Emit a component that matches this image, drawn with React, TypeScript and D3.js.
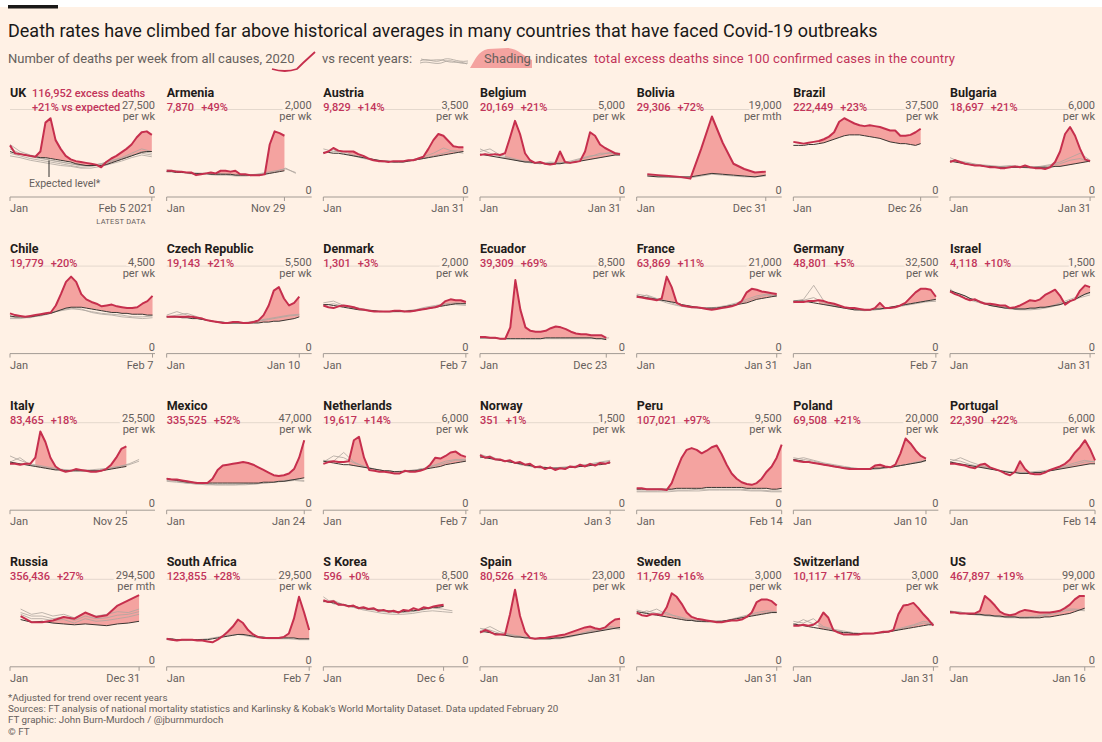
import React from "react";
import * as d3 from "d3";

// Weekly (or monthly) deaths, as % of each panel's axis maximum.
// red = 2020, exp = expected level, grey = recent years
const ukRed = [59, 50, 49, 48, 47, 46, 52, 85, 90, 65, 55, 47, 43, 41, 40, 39, 38, 37, 34, 40, 44, 47, 51, 55, 60, 68, 74, 75, 71];
const ukExp = [52, 50, 49, 48, 47, 46, 45, 45, 44, 43, 42, 41, 40, 38, 37, 36, 36, 36, 36, 37, 39, 41, 43, 45, 47, 49, 51, 52, 52];
const ukGrey = [
  [55, 50, 46, 44, 42, 40, 38, 36, 36, 38, 41, 45, 50, 55, 52],
  [50, 47, 44, 42, 40, 38, 36, 34, 35, 37, 40, 43, 47, 52, 50],
  [60, 52, 48, 45, 42, 40, 38, 36, 36, 38, 42, 44, 48, 50, 48],
  [47, 45, 42, 40, 38, 36, 35, 33, 33, 35, 38, 41, 45, 48, 46],
];
const armeniaRed = [30, 30, 29, 29, 28, 28, 25, 26, 27, 28, 27, 30, 30, 29, 30, 26, 26, 25, 25, 25, 26, 60, 75, 73, 70];
const armeniaExp = [29, 29, 28, 28, 28, 27, 27, 27, 27, 26, 26, 26, 26, 26, 25, 25, 25, 25, 25, 25, 26, 27, 28, 29, 30];
const armeniaGrey = [
  [31, 30, 28, 27, 26, 27, 26, 25, 25, 26, 28, 30, 32, 28],
  [29, 29, 27, 26, 26, 25, 25, 24, 24, 25, 27, 29, 33, 27],
];
const austriaRed = [50, 52, 56, 53, 52, 52, 52, 49, 47, 44, 42, 41, 41, 40, 41, 41, 41, 42, 42, 44, 46, 55, 65, 72, 70, 64, 58, 57, 57];
const austriaExp = [51, 51, 50, 50, 49, 48, 47, 46, 45, 44, 43, 42, 41, 41, 40, 40, 40, 41, 42, 43, 44, 45, 46, 47, 48, 49, 50, 51, 52];
const austriaGrey = [
  [55, 52, 52, 48, 45, 43, 41, 40, 41, 43, 46, 50, 56, 52, 50],
  [50, 54, 50, 47, 44, 42, 40, 40, 40, 42, 44, 47, 50, 53, 52],
];
const belgiumRed = [48, 49, 48, 49, 48, 50, 68, 87, 72, 50, 42, 39, 40, 38, 37, 38, 52, 40, 39, 40, 41, 52, 74, 70, 60, 56, 53, 50, 49];
const belgiumExp = [49, 48, 47, 46, 45, 44, 43, 42, 41, 40, 40, 39, 39, 38, 38, 38, 38, 39, 39, 40, 41, 42, 43, 44, 45, 46, 47, 48, 48];
const belgiumGrey = [
  [52, 55, 48, 45, 42, 40, 38, 40, 39, 40, 43, 46, 50, 50, 49],
  [55, 50, 46, 44, 41, 39, 38, 39, 39, 41, 44, 47, 48, 51, 50],
];
const boliviaRed = [26, 25, 24, 23, 21, 55, 92, 62, 38, 32, 28, 29];
const boliviaExp = [24, 23, 23, 23, 23, 25, 27, 26, 25, 24, 23, 25];
const boliviaGrey = [[25, 24, 23, 22, 22, 24, 26, 25, 24, 23, 23, 24]];
const brazilRed = [63, 62, 61, 62, 63, 64, 66, 69, 74, 86, 90, 87, 84, 82, 81, 82, 81, 80, 78, 76, 76, 70, 70, 71, 74, 78];
const brazilExp = [59, 59, 59, 60, 60, 61, 62, 64, 66, 68, 70, 71, 71, 71, 70, 69, 68, 67, 65, 63, 62, 61, 61, 60, 59, 61];
const brazilGrey: number[][] = [];
const bulgariaRed = [40, 42, 40, 38, 37, 36, 36, 35, 34, 34, 33, 33, 34, 35, 34, 36, 34, 33, 33, 32, 34, 40, 52, 72, 80, 70, 55, 43, 41];
const bulgariaExp = [41, 40, 39, 38, 37, 36, 36, 35, 35, 34, 34, 34, 34, 34, 34, 34, 34, 34, 34, 34, 34, 35, 35, 36, 37, 38, 39, 40, 41];
const bulgariaGrey = [
  [45, 40, 38, 37, 36, 35, 36, 35, 34, 35, 37, 40, 45, 50, 42],
  [42, 41, 39, 36, 35, 34, 34, 34, 33, 34, 36, 38, 42, 44, 40],
];
const chileRed = [46, 44, 43, 42, 43, 44, 45, 46, 47, 55, 68, 82, 88, 82, 68, 62, 59, 57, 54, 55, 56, 54, 53, 52, 52, 53, 57, 60, 66];
const chileExp = [43, 42, 42, 42, 42, 43, 44, 45, 46, 48, 50, 52, 53, 53, 53, 52, 51, 50, 49, 48, 47, 47, 46, 46, 45, 45, 45, 44, 44];
const chileGrey = [
  [40, 40, 42, 43, 46, 50, 52, 50, 48, 46, 45, 44, 42, 42, 43],
  [42, 41, 41, 44, 47, 49, 51, 51, 47, 45, 44, 42, 41, 40, 41],
];
const czechRed = [42, 42, 42, 42, 42, 42, 41, 40, 38, 37, 36, 35, 35, 36, 36, 35, 35, 36, 38, 44, 55, 72, 76, 63, 55, 58, 65];
const czechExp = [42, 42, 42, 41, 41, 40, 40, 39, 38, 37, 36, 36, 35, 35, 35, 35, 35, 35, 35, 36, 36, 37, 37, 38, 39, 40, 42];
const czechGrey = [
  [44, 48, 44, 40, 38, 36, 35, 35, 36, 38, 40, 42, 44, 45],
  [42, 44, 46, 42, 38, 36, 35, 35, 35, 37, 39, 41, 43, 44],
];
const denmarkRed = [55, 53, 52, 54, 55, 54, 53, 51, 50, 49, 48, 48, 48, 48, 49, 49, 48, 48, 49, 50, 51, 52, 53, 55, 60, 62, 61, 61, 59];
const denmarkExp = [56, 56, 55, 54, 53, 52, 51, 50, 50, 49, 49, 48, 48, 48, 48, 48, 48, 49, 49, 50, 51, 52, 53, 54, 55, 56, 57, 57, 57];
const denmarkGrey = [
  [58, 60, 55, 52, 50, 49, 48, 48, 49, 50, 53, 55, 57, 58, 57],
  [55, 57, 54, 53, 51, 49, 48, 48, 48, 50, 52, 54, 56, 56, 55],
];
const ecuadorRed = [19, 19, 18, 18, 17, 17, 30, 84, 50, 30, 26, 25, 25, 26, 29, 31, 30, 28, 25, 23, 22, 22, 21, 21, 21, 18];
const ecuadorExp = [18, 18, 18, 18, 17, 17, 17, 17, 17, 17, 17, 17, 17, 18, 18, 18, 18, 18, 18, 18, 18, 18, 18, 17, 17, 16];
const ecuadorGrey = [[18, 18, 17, 17, 17, 17, 17, 17, 17, 17, 17, 17, 17, 18]];
const franceRed = [65, 64, 63, 62, 61, 63, 88, 76, 58, 55, 54, 53, 53, 52, 51, 50, 51, 52, 53, 54, 56, 60, 70, 74, 73, 71, 70, 69, 68];
const franceExp = [66, 65, 64, 63, 62, 61, 60, 59, 58, 56, 55, 54, 53, 52, 52, 52, 52, 53, 54, 55, 56, 57, 58, 60, 62, 63, 64, 65, 66];
const franceGrey = [
  [68, 66, 62, 58, 55, 53, 52, 52, 53, 55, 58, 62, 66, 68, 66],
  [64, 67, 63, 60, 56, 54, 52, 51, 52, 54, 57, 60, 64, 67, 65],
];
const germanyRed = [59, 59, 59, 60, 60, 61, 60, 58, 57, 55, 53, 52, 52, 51, 50, 50, 52, 58, 52, 52, 53, 55, 58, 64, 70, 74, 74, 73, 65];
const germanyExp = [60, 60, 60, 59, 58, 57, 56, 55, 54, 53, 52, 51, 50, 50, 50, 50, 51, 51, 52, 53, 54, 55, 56, 57, 58, 59, 60, 61, 62];
const germanyGrey = [
  [60, 62, 78, 60, 55, 53, 51, 50, 50, 52, 54, 56, 58, 60, 60],
  [58, 61, 64, 58, 54, 52, 50, 49, 50, 51, 53, 55, 57, 59, 60],
];
const israelRed = [71, 68, 66, 63, 61, 62, 59, 57, 57, 56, 55, 55, 52, 53, 55, 58, 61, 60, 62, 67, 70, 73, 66, 56, 60, 62, 72, 78, 76];
const israelExp = [72, 70, 68, 66, 63, 61, 59, 57, 55, 54, 53, 52, 52, 51, 51, 51, 52, 52, 53, 53, 54, 55, 56, 58, 60, 62, 65, 68, 70];
const israelGrey = [
  [70, 68, 63, 60, 56, 54, 52, 51, 51, 52, 54, 58, 62, 66, 69],
  [74, 65, 61, 58, 55, 53, 51, 50, 50, 51, 53, 56, 60, 64, 67],
];
const italyRed = [53, 53, 52, 53, 53, 60, 90, 78, 60, 50, 46, 44, 45, 47, 46, 45, 44, 44, 45, 47, 52, 60, 70, 73];
const italyExp = [55, 54, 53, 52, 51, 50, 49, 48, 47, 46, 46, 45, 45, 45, 45, 45, 45, 45, 45, 46, 47, 48, 49, 50];
const italyGrey = [
  [62, 57, 53, 51, 49, 47, 46, 46, 46, 47, 48, 50, 52, 56],
  [55, 60, 52, 50, 48, 46, 45, 45, 45, 46, 48, 50, 53, 58],
];
const mexicoRed = [36, 35, 35, 34, 33, 32, 31, 31, 31, 36, 46, 51, 52, 53, 54, 55, 54, 52, 49, 46, 43, 40, 39, 40, 42, 47, 60, 80];
const mexicoExp = [36, 35, 34, 33, 32, 32, 31, 31, 31, 31, 31, 31, 31, 31, 31, 31, 31, 31, 31, 32, 32, 32, 33, 33, 34, 35, 36, 37];
const mexicoGrey = [
  [34, 33, 31, 30, 30, 29, 29, 29, 30, 30, 31, 32, 34, 35, 34],
  [33, 32, 31, 30, 29, 29, 29, 29, 29, 30, 31, 32, 33, 34, 33],
];
const netherlandsRed = [53, 55, 56, 55, 55, 56, 80, 84, 60, 46, 45, 44, 44, 43, 42, 42, 45, 44, 44, 45, 47, 52, 60, 59, 62, 66, 67, 63, 61];
const netherlandsExp = [56, 55, 54, 53, 52, 52, 51, 50, 49, 48, 47, 46, 45, 45, 44, 44, 44, 45, 45, 46, 47, 48, 49, 50, 52, 53, 54, 55, 56];
const netherlandsGrey = [
  [55, 62, 60, 54, 50, 47, 45, 44, 44, 46, 48, 52, 56, 58, 58],
  [57, 56, 66, 55, 50, 47, 45, 44, 45, 46, 48, 51, 54, 57, 57],
];
const norwayRed = [63, 60, 61, 58, 58, 56, 57, 54, 55, 52, 53, 49, 50, 47, 49, 46, 48, 47, 50, 49, 52, 50, 53, 51, 54, 53, 55];
const norwayExp = [61, 60, 59, 58, 57, 56, 55, 54, 53, 52, 51, 50, 49, 49, 48, 48, 48, 48, 49, 49, 50, 50, 51, 52, 52, 53, 54];
const norwayGrey = [
  [64, 60, 58, 55, 53, 51, 49, 48, 49, 50, 51, 52, 54, 56],
  [60, 62, 57, 56, 52, 50, 48, 48, 48, 49, 51, 53, 55, 57],
];
const peruRed = [25, 25, 24, 24, 24, 24, 23, 31, 46, 60, 69, 71, 69, 65, 68, 72, 74, 64, 52, 42, 36, 32, 30, 29, 31, 36, 44, 50, 60, 75];
const peruExp = [24, 24, 24, 24, 24, 24, 24, 24, 25, 25, 25, 25, 25, 25, 26, 26, 26, 26, 26, 26, 26, 26, 25, 25, 25, 25, 25, 24, 24, 25];
const peruGrey = [
  [22, 22, 22, 23, 23, 23, 24, 24, 24, 24, 24, 23, 23, 22, 22],
  [21, 21, 21, 21, 22, 22, 22, 23, 23, 23, 23, 22, 22, 21, 21],
];
const polandRed = [57, 56, 55, 55, 54, 53, 52, 51, 50, 49, 48, 47, 47, 47, 47, 47, 51, 52, 50, 49, 52, 65, 82, 76, 68, 62, 59];
const polandExp = [58, 57, 56, 55, 54, 53, 52, 51, 50, 49, 48, 48, 47, 47, 47, 47, 48, 48, 49, 49, 50, 51, 52, 53, 54, 55, 57];
const polandGrey = [
  [60, 58, 56, 53, 51, 49, 48, 47, 47, 48, 50, 52, 55, 57],
  [58, 60, 57, 54, 52, 50, 48, 47, 47, 48, 50, 52, 54, 56],
];
const portugalRed = [53, 53, 52, 51, 49, 48, 52, 53, 49, 47, 45, 42, 40, 44, 56, 47, 42, 41, 41, 43, 46, 48, 50, 53, 58, 66, 72, 80, 70, 57];
const portugalExp = [55, 54, 53, 52, 51, 50, 49, 48, 47, 46, 45, 44, 43, 43, 42, 42, 42, 43, 43, 44, 45, 46, 47, 48, 49, 50, 51, 52, 53, 53];
const portugalGrey = [
  [58, 56, 52, 50, 47, 45, 43, 43, 44, 45, 47, 50, 54, 57, 55],
  [55, 60, 55, 51, 48, 45, 44, 43, 43, 44, 46, 49, 52, 55, 56],
];
const russiaRed = [58, 51, 51, 53, 57, 55, 62, 57, 59, 70, 76, 82];
const russiaExp = [54, 51, 52, 50, 49, 48, 49, 48, 47, 49, 50, 52];
const russiaGrey = [
  [66, 60, 62, 58, 60, 56, 62, 58, 60, 63, 62, 66],
  [62, 58, 58, 55, 57, 53, 58, 55, 56, 59, 60, 63],
  [60, 55, 55, 53, 54, 50, 55, 52, 53, 55, 57, 60],
];
const southAfricaRed = [32, 31, 30, 31, 31, 31, 30, 30, 29, 28, 31, 35, 40, 46, 54, 50, 42, 37, 34, 33, 33, 33, 33, 34, 38, 55, 80, 62, 42];
const southAfricaExp = [32, 32, 31, 31, 31, 31, 31, 31, 31, 32, 33, 34, 35, 36, 37, 37, 36, 35, 34, 34, 33, 33, 33, 33, 33, 33, 32, 32, 32];
const southAfricaGrey = [[31, 30, 30, 31, 32, 34, 36, 37, 35, 33, 32, 32, 32, 31, 31]];
const sKoreaRed = [76, 74, 75, 71, 71, 69, 70, 67, 68, 66, 67, 64, 65, 63, 64, 62, 65, 64, 67, 65, 68, 67, 69, 70, 71];
const sKoreaExp = [75, 74, 73, 72, 71, 70, 69, 68, 67, 66, 66, 65, 64, 64, 63, 63, 63, 64, 64, 65, 66, 67, 68, 68, 69];
const sKoreaGrey = [
  [80, 72, 70, 68, 66, 65, 63, 62, 62, 63, 65, 67, 66, 64],
  [74, 76, 71, 68, 65, 63, 61, 60, 60, 61, 63, 64, 63, 62],
];
const spainRed = [39, 42, 40, 37, 37, 37, 60, 88, 58, 40, 33, 32, 33, 33, 34, 35, 36, 37, 39, 41, 43, 45, 46, 44, 43, 45, 50, 54, 55];
const spainExp = [40, 40, 39, 38, 37, 36, 35, 34, 34, 33, 33, 32, 32, 32, 32, 33, 33, 34, 35, 36, 37, 38, 39, 40, 41, 42, 43, 44, 45];
const spainGrey = [
  [44, 42, 38, 36, 34, 33, 32, 32, 33, 35, 38, 41, 44, 46, 44],
  [41, 46, 40, 37, 35, 33, 32, 32, 32, 34, 37, 40, 42, 44, 43],
];
const swedenRed = [62, 59, 58, 60, 60, 59, 68, 84, 80, 72, 62, 57, 55, 54, 53, 52, 51, 51, 52, 53, 53, 54, 57, 62, 74, 77, 77, 75, 70];
const swedenExp = [63, 62, 61, 60, 59, 58, 57, 56, 55, 54, 53, 53, 52, 52, 52, 52, 52, 52, 53, 54, 55, 56, 57, 58, 59, 60, 61, 62, 62];
const swedenGrey = [
  [65, 62, 66, 60, 58, 55, 53, 52, 52, 53, 56, 59, 62, 64, 63],
  [60, 64, 61, 62, 57, 54, 52, 51, 51, 52, 55, 58, 60, 62, 62],
];
const switzerlandRed = [47, 47, 48, 47, 48, 52, 62, 56, 42, 39, 37, 37, 37, 37, 38, 38, 38, 39, 40, 40, 42, 60, 70, 71, 73, 67, 60, 54, 47];
const switzerlandExp = [49, 48, 47, 46, 45, 44, 43, 42, 41, 40, 39, 39, 38, 38, 38, 38, 38, 39, 39, 40, 41, 42, 43, 44, 45, 46, 47, 48, 48];
const switzerlandGrey = [
  [52, 50, 55, 46, 43, 41, 39, 38, 38, 40, 42, 45, 48, 52, 50],
  [48, 54, 49, 45, 42, 40, 38, 37, 38, 39, 41, 44, 47, 50, 49],
];
const usRed = [62, 62, 61, 61, 61, 61, 64, 81, 76, 70, 63, 60, 59, 60, 63, 65, 64, 63, 62, 62, 62, 63, 64, 67, 71, 77, 81, 81];
const usExp = [63, 62, 61, 61, 60, 60, 60, 59, 59, 58, 58, 57, 57, 57, 56, 56, 56, 56, 56, 57, 57, 58, 59, 60, 61, 63, 65, 67];
const usGrey = [
  [64, 62, 61, 60, 59, 58, 57, 57, 57, 58, 60, 63, 66, 66, 65],
  [63, 63, 60, 59, 58, 57, 56, 56, 56, 57, 59, 61, 64, 65, 64],
];

const names = [
  "UK", "Armenia", "Austria", "Belgium", "Bolivia", "Brazil", "Bulgaria",
  "Chile", "Czech Republic", "Denmark", "Ecuador", "France", "Germany", "Israel",
  "Italy", "Mexico", "Netherlands", "Norway", "Peru", "Poland", "Portugal",
  "Russia", "South Africa", "S Korea", "Spain", "Sweden", "Switzerland", "US",
];
const excessDeaths = [
  116952, 7870, 9829, 20169, 29306, 222449, 18697,
  19779, 19143, 1301, 39309, 63869, 48801, 4118,
  83465, 335525, 19617, 351, 107021, 69508, 22390,
  356436, 123855, 596, 80526, 11769, 10117, 467897,
];
const excessPct = [21, 49, 14, 21, 72, 23, 21, 20, 21, 3, 69, 11, 5, 10, 18, 52, 14, 1, 97, 21, 22, 27, 28, 0, 21, 16, 17, 19];
const axisMax = [
  27500, 2000, 3500, 5000, 19000, 37500, 6000,
  4500, 5500, 2000, 8500, 21000, 32500, 1500,
  25500, 47000, 6000, 1500, 9500, 20000, 6000,
  294500, 29500, 8500, 23000, 3000, 3000, 99000,
];
const monthly = ["Bolivia", "Russia"];
const endDates = [
  "2021-02-05", "2020-11-29", "2021-01-31", "2021-01-31", "2020-12-31", "2020-12-26", "2021-01-31",
  "2021-02-07", "2021-01-10", "2021-02-07", "2020-12-23", "2021-01-31", "2021-02-07", "2021-01-31",
  "2020-11-25", "2021-01-24", "2021-02-07", "2021-01-03", "2021-02-14", "2021-01-10", "2021-02-14",
  "2020-12-31", "2021-02-07", "2020-12-06", "2021-01-31", "2021-01-31", "2021-01-31", "2021-01-16",
];
const endLabels = [
  "Feb 5 2021", "Nov 29", "Jan 31", "Jan 31", "Dec 31", "Dec 26", "Jan 31",
  "Feb 7", "Jan 10", "Feb 7", "Dec 23", "Jan 31", "Feb 7", "Jan 31",
  "Nov 25", "Jan 24", "Feb 7", "Jan 3", "Feb 14", "Jan 10", "Feb 14",
  "Dec 31", "Feb 7", "Dec 6", "Jan 31", "Jan 31", "Jan 31", "Jan 16",
];
const redSeries = [
  ukRed, armeniaRed, austriaRed, belgiumRed, boliviaRed, brazilRed, bulgariaRed,
  chileRed, czechRed, denmarkRed, ecuadorRed, franceRed, germanyRed, israelRed,
  italyRed, mexicoRed, netherlandsRed, norwayRed, peruRed, polandRed, portugalRed,
  russiaRed, southAfricaRed, sKoreaRed, spainRed, swedenRed, switzerlandRed, usRed,
];
const expSeries = [
  ukExp, armeniaExp, austriaExp, belgiumExp, boliviaExp, brazilExp, bulgariaExp,
  chileExp, czechExp, denmarkExp, ecuadorExp, franceExp, germanyExp, israelExp,
  italyExp, mexicoExp, netherlandsExp, norwayExp, peruExp, polandExp, portugalExp,
  russiaExp, southAfricaExp, sKoreaExp, spainExp, swedenExp, switzerlandExp, usExp,
];
const greySeries = [
  ukGrey, armeniaGrey, austriaGrey, belgiumGrey, boliviaGrey, brazilGrey, bulgariaGrey,
  chileGrey, czechGrey, denmarkGrey, ecuadorGrey, franceGrey, germanyGrey, israelGrey,
  italyGrey, mexicoGrey, netherlandsGrey, norwayGrey, peruGrey, polandGrey, portugalGrey,
  russiaGrey, southAfricaGrey, sKoreaGrey, spainGrey, swedenGrey, switzerlandGrey, usGrey,
];

const FONT = "Roboto, 'Open Sans', sans-serif";
const BG = "#fff1e5";
const RED = "#c62f4d";
const STAT = "#c2345a";
const SHADE = "#f4a3a0";
const MUTED = "#66605c";

const parseDate = d3.timeParse("%Y-%m-%d");
const fmt = d3.format(",");
const START = new Date(2020, 0, 1);
const DOMAIN_END = new Date(2021, 1, 14);
const YEAR_END = new Date(2020, 11, 31);
const SHADE_FROM = new Date(2020, 2, 8);

const COL_STEP = 156.67;
const ROW_STEP = 156.6;
const W = 145;

function spread(n: number, from: Date, to: Date) {
  const t = d3.scaleLinear().domain([0, Math.max(1, n - 1)]).range([+from, +to]);
  return d3.range(n).map((k) => new Date(t(k)));
}

function Panel({ i }: { i: number }) {
  const col = i % 7;
  const row = Math.floor(i / 7);
  const left = 10 + col * COL_STEP;
  const top = row * ROW_STEP;
  const gridY = top + 109.5;
  const zeroY = top + 197;

  const x = d3.scaleTime().domain([START, DOMAIN_END]).range([left, left + W]);
  const y = d3.scaleLinear().domain([0, 100]).range([zeroY, gridY]);

  const isMonthly = monthly.includes(names[i]);
  const first = isMonthly ? new Date(2020, 0, 31) : START;
  const end = parseDate(endDates[i]) as Date;
  const red = redSeries[i];
  const exp = expSeries[i];
  const dates = spread(red.length, first, end);
  const greyEnd = end > YEAR_END ? end : YEAR_END;

  const line = d3
    .line<number>()
    .x((_, k) => x(dates[k]))
    .y((d) => y(d));

  const s = Math.max(0, dates.findIndex((d) => d >= SHADE_FROM));
  const n = Math.min(red.length, exp.length);
  const area = d3
    .area<number>()
    .x((k) => x(dates[k]))
    .y0((k) => y(exp[k]))
    .y1((k) => y(Math.max(red[k], exp[k])));

  const endX = x(end);
  const isUK = i === 0;

  // expected-level pointer for UK
  let pointer: React.ReactNode = null;
  if (isUK) {
    const px = left + 39;
    const k = d3.leastIndex(dates, (d) => Math.abs(x(d) - px)) ?? 0;
    pointer = (
      <g>
        <line x1={px} x2={px} y1={y(exp[k]) + 2} y2={top + 177} stroke="#33302e" strokeWidth={1} />
        <text x={left + 19} y={top + 187} fontSize={10.5} fill={MUTED}>Expected level*</text>
      </g>
    );
  }

  return (
    <g fontFamily={FONT}>
      {/* top gridline */}
      <line x1={left} x2={left + W} y1={gridY} y2={gridY} stroke="#e4d8cd" strokeWidth={1} />

      {/* excess shading */}
      <path d={area(d3.range(s, n)) ?? ""} fill={SHADE} />

      {/* recent years */}
      {greySeries[i].map((g, gi) => {
        const gd = spread(g.length, first, greyEnd);
        const gl = d3
          .line<number>()
          .x((_, k) => x(gd[k]))
          .y((d) => y(d));
        return <path key={gi} d={gl(g) ?? ""} fill="none" stroke="#aea69f" strokeWidth={0.9} opacity={0.9} />;
      })}

      {/* expected */}
      <path d={line(exp) ?? ""} fill="none" stroke="#3a3632" strokeWidth={1} />

      {/* 2020 */}
      <path d={line(red) ?? ""} fill="none" stroke={RED} strokeWidth={2} strokeLinejoin="round" />

      {pointer}

      {/* x axis */}
      <line x1={left} x2={left + W} y1={zeroY} y2={zeroY} stroke="#a39b94" strokeWidth={1} />
      <line x1={left} x2={left} y1={zeroY} y2={zeroY + 4} stroke="#a39b94" />
      <line x1={endX} x2={endX} y1={zeroY} y2={zeroY + 4} stroke="#a39b94" />
      <text x={left} y={zeroY + 15} fontSize={11} fill={MUTED}>Jan</text>
      <text x={endX + 1} y={zeroY + 15} fontSize={11} fill={MUTED} textAnchor="end">{endLabels[i]}</text>
      {isUK && (
        <text x={left + 111} y={top + 224} fontSize={7.5} fill={MUTED} textAnchor="middle" letterSpacing={0.3}>
          LATEST DATA
        </text>
      )}

      {/* y labels */}
      <text x={left + W} y={zeroY - 3} fontSize={11} fill={MUTED} textAnchor="end">0</text>
      <text
        x={left + W}
        y={gridY - 0.5}
        fontSize={11}
        fill={MUTED}
        textAnchor="end"
        stroke={BG}
        strokeWidth={4}
        paintOrder="stroke"
      >
        {fmt(axisMax[i])}
      </text>
      <text x={left + W} y={gridY + 10.5} fontSize={11} fill={MUTED} textAnchor="end">
        {isMonthly ? "per mth" : "per wk"}
      </text>

      {/* titles */}
      <text x={left} y={top + 96.5} fontSize={12.5} fontWeight={700} fill="#1f1c1a">{names[i]}</text>
      {isUK ? (
        <>
          <text x={left + 22} y={top + 96.5} fontSize={11} fontWeight={500} fill={STAT}>
            {fmt(excessDeaths[i])} excess deaths
          </text>
          <text x={left + 22} y={top + 110.5} fontSize={11} fontWeight={500} fill={STAT}>
            +{excessPct[i]}% vs expected
          </text>
        </>
      ) : (
        <text x={left} y={top + 110.5} fontSize={11} fontWeight={500} fill={STAT}>
          {fmt(excessDeaths[i])}
          <tspan dx={7}>+{excessPct[i]}%</tspan>
        </text>
      )}
    </g>
  );
}

export default function App() {
  return (
    <div style={{ position: "absolute", left: 0, top: 0 }}>
      <svg width={1102} height={742} style={{ display: "block" }}>
        <rect x={0} y={0} width={1102} height={742} fill="#ffffff" />
        <rect x={0} y={7} width={1102} height={735} fill={BG} />
        <rect x={8} y={5} width={50} height={3.5} fill="#1a1817" />

        <text x={8} y={37} fontFamily={FONT} fontSize={18} fill="#1a1817">
          Death rates have climbed far above historical averages in many countries that have faced Covid-19 outbreaks
        </text>

        {/* subtitle with inline key */}
        <g fontFamily={FONT} fontSize={13} fill={MUTED}>
          <text x={8} y={63}>Number of deaths per week from all causes, 2020</text>
          <path d="M272,69 Q285,73 297,69 L303,63 L315,52" fill="none" stroke={RED} strokeWidth={1.8} />
          <text x={322} y={63}>vs recent years:</text>
          <path d="M420,61 C428,57 434,64 442,60 S456,63 468,61" fill="none" stroke="#aaa29b" strokeWidth={0.8} />
          <path d="M420,63 C428,60 436,66 444,62 S458,65 468,63" fill="none" stroke="#aaa29b" strokeWidth={0.8} />
          <path d="M421,59 C430,62 438,58 446,61 S458,60 467,64" fill="none" stroke="#aaa29b" strokeWidth={0.8} />
          <path d="M470,68 C475,60 478,51 488,49 L508,48 C519,49 523,56 532,60 L532,68 Z" fill={SHADE} />
          <text x={484} y={63}>Shading</text>
          <text x={535} y={63}>indicates</text>
          <text x={594} y={63} fill={STAT} textLength={361}>
            total excess deaths since 100 confirmed cases in the country
          </text>
        </g>

        {names.map((_, i) => (
          <Panel key={i} i={i} />
        ))}

        <g fontFamily={FONT} fontSize={9.8} fill={MUTED}>
          <text x={8} y={701}>*Adjusted for trend over recent years</text>
          <text x={8} y={712}>
            Sources: FT analysis of national mortality statistics and Karlinsky &amp; Kobak's World Mortality Dataset. Data updated February 20
          </text>
          <text x={8} y={723}>FT graphic: John Burn-Murdoch / @jburnmurdoch</text>
          <text x={8} y={735}>© FT</text>
        </g>
      </svg>
    </div>
  );
}
